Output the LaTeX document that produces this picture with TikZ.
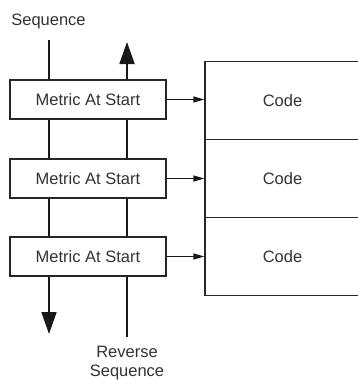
\documentclass[tikz,border=0pt]{standalone}
\usepackage{fontspec}
\setmainfont{Liberation Sans}
\usetikzlibrary{arrows.meta}
\begin{document}
\begin{tikzpicture}[x=1pt,y=-1pt,
  every node/.style={font=\fontsize{16.5}{20}\selectfont, text=black!80},
  metric/.style={draw=black!85, line width=1.3pt, fill=white, minimum width=156pt, minimum height=39pt, inner sep=0pt},
  codebox/.style={draw=black!85, line width=1.3pt, fill=white, minimum width=155pt, minimum height=78pt, inner sep=0pt},
  vline/.style={draw=black!90, line width=1.8pt},
  bigtip/.style={-{Triangle[length=22pt,width=15pt]}},
  hlink/.style={draw=black!90, line width=1.3pt, -{Triangle[length=11pt,width=6pt]}},
  lbl/.style={align=center, inner sep=0pt}
]
\useasboundingbox (0,0) rectangle (357,380);
\fill[white] (0,0) rectangle (357,380);

% code boxes
\node[codebox] (c1) at (282.5,100.5) {Code};
\node[codebox] (c2) at (282.5,178.5) {Code};
\node[codebox] (c3) at (282.5,256.5) {Code};

% metric boxes
\node[metric] (m1) at (88,99.5) {Metric At Start};
\node[metric] (m2) at (88,178.5) {Metric At Start};
\node[metric] (m3) at (88,256.5) {Metric At Start};

% labels
\node[lbl] (seq) at (48.5,21) {Sequence};
\node[lbl] (rev) at (127,363) {Reverse\\[-1pt]Sequence};

% vertical line endpoints
\coordinate (stop) at (49,40);
\coordinate (sbot) at (49,334);
\coordinate (rtop) at (127,42);
\coordinate (rbot) at (127,337);

% Sequence line (downwards)
\draw[vline] (stop) -- (stop |- m1.north);
\draw[vline] (m1.south -| stop) -- (m2.north -| stop);
\draw[vline] (m2.south -| stop) -- (m3.north -| stop);
\draw[vline, bigtip] (m3.south -| stop) -- (sbot);

% Reverse sequence line (upwards)
\draw[vline] (rbot) -- (rbot |- m3.south);
\draw[vline] (m3.north -| rbot) -- (m2.south -| rbot);
\draw[vline] (m2.north -| rbot) -- (m1.south -| rbot);
\draw[vline, bigtip] (m1.north -| rbot) -- (rtop);

% links
\draw[hlink] (m1.east) -- (c1.west |- m1.east);
\draw[hlink] (m2.east) -- (c2.west |- m2.east);
\draw[hlink] (m3.east) -- (c3.west |- m3.east);
\end{tikzpicture}
\end{document}
